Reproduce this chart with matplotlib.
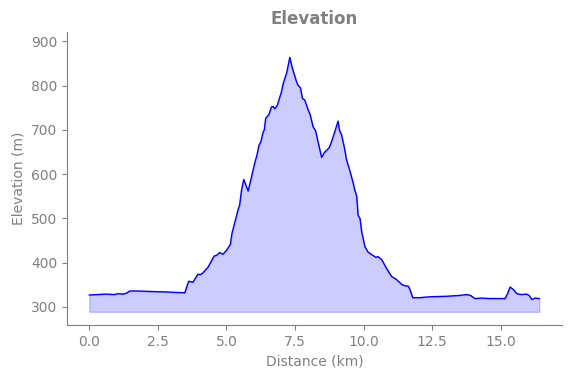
import matplotlib
matplotlib.use("Agg")
import matplotlib.pyplot as plt
import numpy as np

# distance along the route (km) and elevation (m)
distance_km = [0.0, 0.3, 0.6, 0.9, 1.04, 1.22, 1.35, 1.47, 1.8, 2.2, 2.74, 3.1, 3.48,
               3.62, 3.78, 3.96, 4.05, 4.14, 4.33, 4.55, 4.65, 4.75, 4.87, 5.0, 5.14,
               5.2, 5.3, 5.42, 5.48, 5.55, 5.63, 5.79, 5.9, 5.97, 6.05, 6.1, 6.19,
               6.25, 6.34, 6.38, 6.43, 6.55, 6.64, 6.7, 6.76, 6.85, 6.92, 7.0, 7.07,
               7.2, 7.31, 7.38, 7.46, 7.55, 7.61, 7.7, 7.77, 7.85, 7.9, 7.98, 8.05,
               8.16, 8.25, 8.34, 8.47, 8.56, 8.65, 8.75, 8.83, 8.95, 9.07, 9.12, 9.2,
               9.3, 9.38, 9.48, 9.56, 9.62, 9.68, 9.75, 9.8, 9.87, 9.93, 10.05,
               10.15, 10.23, 10.35, 10.45, 10.52, 10.66, 10.84, 11.02, 11.1, 11.2,
               11.39, 11.5, 11.63, 11.7, 11.79, 12.05, 12.42, 13.0, 13.5, 13.76,
               13.9, 14.06, 14.3, 14.6, 15.0, 15.16, 15.25, 15.34, 15.45, 15.59,
               15.75, 15.95, 16.05, 16.13, 16.25, 16.41]
elevation_m = [327, 328, 329, 328, 330, 329, 331, 336, 336, 335, 334, 333, 332,
               358, 356, 374, 373, 377, 390, 415, 417, 423, 419, 428, 441,
               466, 490, 519, 530, 564, 588, 562, 590, 609, 630, 640, 666,
               672, 696, 700, 726, 735, 752, 753, 748, 755, 769, 785, 805,
               830, 864, 845, 828, 810, 801, 795, 771, 768, 760, 745, 735,
               707, 698, 673, 638, 648, 654, 660, 673, 696, 720, 700, 688,
               660, 632, 612, 594, 580, 564, 550, 507, 500, 470, 436,
               425, 421, 416, 412, 414, 407, 387, 369, 366, 362,
               351, 348, 347, 338, 321, 321, 323, 324, 326, 328,
               326, 319, 320, 319, 319, 319, 330, 345, 340, 330,
               328, 329, 325, 317, 320, 319]

x = np.array(distance_km)
y = np.array(elevation_m)
base = y.min() - 28

grey = "#808080"
fig, ax = plt.subplots(figsize=(5.71, 3.78), dpi=100)
fig.subplots_adjust(left=0.117, right=0.984, bottom=0.14, top=0.915)

ax.fill_between(x, y, base, color="blue", alpha=0.2)
ax.plot(x, y, color="blue", linewidth=1)

ax.set_ylim(259, 921)
ax.set_xticks([0, 2.5, 5, 7.5, 10, 12.5, 15])
ax.set_title("Elevation", fontsize=12, fontweight="bold", color=grey)
ax.set_xlabel("Distance (km)", color=grey)
ax.set_ylabel("Elevation (m)", color=grey)

for side in ["top", "right"]:
    ax.spines[side].set_visible(False)
for side in ["left", "bottom"]:
    ax.spines[side].set_color(grey)
ax.tick_params(colors=grey, labelsize=10)

fig.savefig("out.png", dpi=100)
